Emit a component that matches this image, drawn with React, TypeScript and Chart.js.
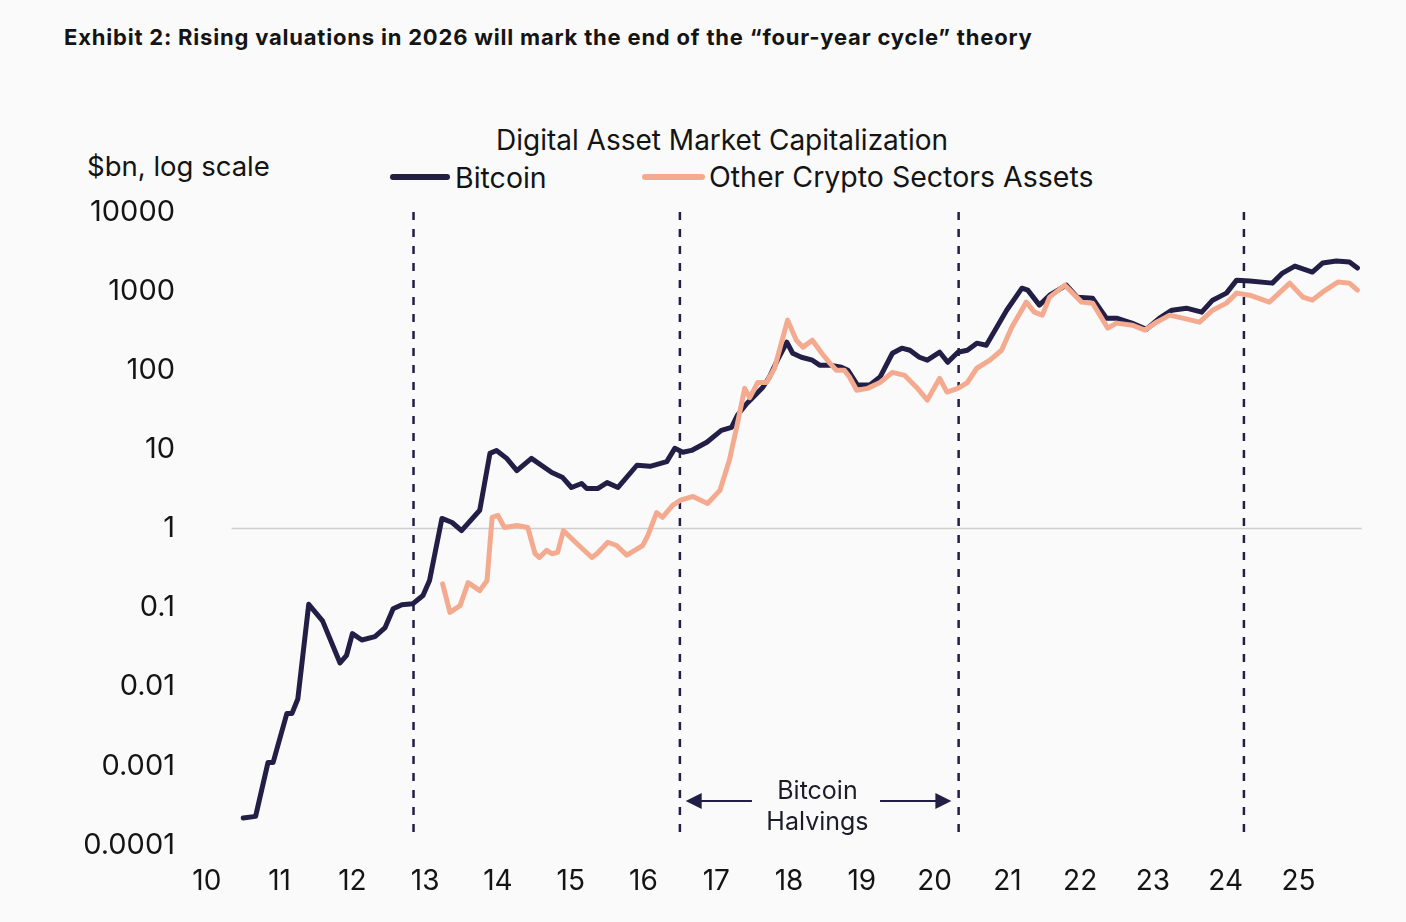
import { useEffect, useRef } from "react";
import { Chart, registerables } from "chart.js";

Chart.register(...registerables);

const NAVY = "#221e45";
const SALMON = "#f4aa8f";
const FONT = "Inter, 'Noto Sans', sans-serif";

// decimal year (10 = 2010) and market cap in $bn
const BTC_YEARS = [
  10.5, 10.67, 10.84, 10.91, 11.1, 11.17, 11.25, 11.4, 11.59, 11.83, 11.92, 12.0, 12.13, 12.31,
  12.45, 12.56, 12.68, 12.83, 12.97, 13.06, 13.23, 13.37, 13.5, 13.75, 13.89, 13.98, 14.12, 14.26,
  14.46, 14.74, 14.89, 15.01, 15.15, 15.22, 15.37, 15.5, 15.65, 15.91, 16.09, 16.32, 16.43, 16.54,
  16.66, 16.87, 17.07, 17.21, 17.29, 17.42, 17.5, 17.64, 17.73, 17.84, 17.97, 18.05, 18.17, 18.32,
  18.42, 18.56, 18.72, 18.81, 18.94, 19.11, 19.25, 19.42, 19.55, 19.66, 19.79, 19.9, 20.07, 20.18,
  20.32, 20.45, 20.58, 20.71, 20.99, 21.2, 21.28, 21.44, 21.58, 21.81, 21.96, 22.17, 22.36, 22.5,
  22.71, 22.91, 23.09, 23.26, 23.46, 23.67, 23.82, 24.01, 24.15, 24.33, 24.64, 24.78, 24.95, 25.19,
  25.33, 25.52, 25.7, 25.81,
];
const BTC_CAP = [
  0.00022, 0.00023, 0.0011, 0.0011, 0.0046, 0.0046, 0.007, 0.11, 0.068, 0.02, 0.025, 0.047, 0.039, 0.043,
  0.056, 0.097, 0.109, 0.112, 0.142, 0.22, 1.34, 1.19, 0.94, 1.7, 8.9, 9.7, 7.7, 5.4,
  7.7, 5.1, 4.4, 3.3, 3.7, 3.2, 3.2, 3.8, 3.3, 6.3, 6.1, 7.0, 10.3, 9.2,
  9.7, 12.3, 17.4, 19, 27, 38, 45, 61, 82, 134, 226, 164, 146, 134,
  116, 116, 109, 100, 65, 65, 82, 164, 190, 179, 146, 134, 169, 126,
  169, 179, 220, 207, 574, 1090, 1030, 666, 889, 1190, 839, 815, 455, 455,
  394, 330, 455, 574, 609, 542, 769, 944, 1377, 1339, 1262, 1690, 2071, 1740,
  2261, 2400, 2330, 1955,
];

const OTHER_YEARS = [
  13.24, 13.34, 13.48, 13.59, 13.75, 13.85, 13.92, 14.0, 14.09, 14.26, 14.41, 14.51, 14.57, 14.67,
  14.74, 14.82, 14.9, 15.08, 15.29, 15.36, 15.51, 15.63, 15.77, 15.88, 15.99, 16.06, 16.18, 16.26,
  16.4, 16.5, 16.68, 16.88, 17.05, 17.18, 17.28, 17.39, 17.46, 17.57, 17.69, 17.8, 17.98, 18.1,
  18.19, 18.32, 18.45, 18.56, 18.65, 18.76, 18.83, 18.93, 19.08, 19.25, 19.42, 19.59, 19.75, 19.9,
  20.07, 20.17, 20.32, 20.45, 20.58, 20.76, 20.92, 21.06, 21.26, 21.37, 21.48, 21.58, 21.79, 22.02,
  22.17, 22.38, 22.5, 22.72, 22.89, 23.05, 23.23, 23.41, 23.64, 23.82, 24.01, 24.15, 24.33, 24.6,
  24.88, 25.06, 25.19, 25.33, 25.54, 25.7, 25.81,
];
const OTHER_CAP = [
  0.2, 0.087, 0.106, 0.207, 0.164, 0.22, 1.38, 1.46, 1.03, 1.09, 1.03, 0.48, 0.43, 0.53,
  0.48, 0.5, 0.94, 0.65, 0.43, 0.48, 0.67, 0.61, 0.46, 0.53, 0.61, 0.82, 1.59, 1.38,
  1.96, 2.26, 2.54, 2.07, 3.03, 7.3, 19, 59, 45, 70, 70, 106, 430, 240,
  196, 240, 164, 123, 100, 100, 82, 56, 59, 70, 94, 86, 61, 42,
  79, 53, 59, 70, 106, 134, 179, 350, 726, 542, 497, 839, 1190, 726,
  705, 340, 394, 371, 321, 405, 497, 455, 405, 574, 705, 944, 889, 726,
  1262, 839, 769, 970, 1300, 1262, 1030,
];

const HALVINGS = [12.84, 16.5, 20.33, 24.25];

const YEAR_TICKS = [10, 11, 12, 13, 14, 15, 16, 17, 18, 19, 20, 21, 22, 23, 24, 25];
const YEAR_LABELS = ["10", "11", "12", "13", "14", "15", "16", "17", "18", "19", "20", "21", "22", "23", "24", "25"];
const CAP_TICKS = [0.0001, 0.001, 0.01, 0.1, 1, 10, 100, 1000, 10000];
const CAP_LABELS = ["0.0001", "0.001", "0.01", "0.1", "1", "10", "100", "1000", "10000"];

// where the "Bitcoin Halvings" note sits, in data units
const NOTE_ARROW_Y = 0.00036;
const NOTE_LEFT = [16.58, 17.49];
const NOTE_RIGHT = [19.25, 20.23];
const NOTE_X = 18.39;
const NOTE_LINES: [string, number][] = [["Bitcoin", 0.00048], ["Halvings", 0.000195]];

const halvingNote = {
  id: "halvingNote",
  afterDatasetsDraw(chart: Chart) {
    const { ctx } = chart;
    const x = chart.scales.x;
    const y = chart.scales.y;
    const ay = y.getPixelForValue(NOTE_ARROW_Y);
    ctx.save();
    ctx.strokeStyle = NAVY;
    ctx.fillStyle = NAVY;
    ctx.lineWidth = 2;
    const arrow = (tip: number, tail: number) => {
      const px = x.getPixelForValue(tip);
      const qx = x.getPixelForValue(tail);
      const dir = Math.sign(qx - px);
      ctx.beginPath();
      ctx.moveTo(px + dir * 12, ay);
      ctx.lineTo(qx, ay);
      ctx.stroke();
      ctx.beginPath();
      ctx.moveTo(px, ay);
      ctx.lineTo(px + dir * 16, ay - 8);
      ctx.lineTo(px + dir * 16, ay + 8);
      ctx.closePath();
      ctx.fill();
    };
    arrow(NOTE_LEFT[0], NOTE_LEFT[1]);
    arrow(NOTE_RIGHT[1], NOTE_RIGHT[0]);
    ctx.fillStyle = "#1c1c28";
    ctx.font = `25px ${FONT}`;
    ctx.textAlign = "center";
    ctx.textBaseline = "middle";
    NOTE_LINES.forEach(([t, v]) => ctx.fillText(t, x.getPixelForValue(NOTE_X), y.getPixelForValue(v)));
    ctx.restore();
  },
};

function Text({ left, cy, size, weight, spacing, children }: {
  left: number; cy: number; size: number; weight?: number; spacing?: number; children: string;
}) {
  return (
    <div style={{
      position: "absolute", left, top: cy, transform: "translateY(-50%)",
      fontFamily: FONT, fontSize: size, fontWeight: weight ?? 400, lineHeight: 1,
      letterSpacing: spacing ?? 0, whiteSpace: "nowrap", color: "#141414",
    }}>{children}</div>
  );
}

function Swatch({ left, width, color }: { left: number; width: number; color: string }) {
  return (
    <div style={{
      position: "absolute", left, top: 174, width, height: 6, borderRadius: 3, background: color,
    }} />
  );
}

export default function App() {
  const canvasRef = useRef<HTMLCanvasElement>(null);
  const chartRef = useRef<Chart | null>(null);

  useEffect(() => {
    if (!canvasRef.current) return;
    if (chartRef.current) chartRef.current.destroy();

    const halvingSets = HALVINGS.map(h => ({
      label: "halving",
      data: [{ x: h, y: 10000 }, { x: h, y: 0.00012 }],
      borderColor: NAVY,
      borderWidth: 2.5,
      borderDash: [8, 9],
      pointRadius: 0,
      order: 3,
    }));

    chartRef.current = new Chart(canvasRef.current, {
      type: "line",
      data: {
        datasets: [
          {
            label: "Bitcoin",
            data: BTC_YEARS.map((x, i) => ({ x, y: BTC_CAP[i] })),
            borderColor: NAVY,
            backgroundColor: NAVY,
            borderWidth: 5,
            pointRadius: 0,
            tension: 0,
            borderJoinStyle: "round",
            borderCapStyle: "round",
            order: 1,
          },
          {
            label: "Other Crypto Sectors Assets",
            data: OTHER_YEARS.map((x, i) => ({ x, y: OTHER_CAP[i] })),
            borderColor: SALMON,
            backgroundColor: SALMON,
            borderWidth: 5,
            pointRadius: 0,
            tension: 0,
            borderJoinStyle: "round",
            borderCapStyle: "round",
            order: 0,
          },
          ...halvingSets,
          {
            label: "one",
            data: [{ x: 10.34, y: 1 }, { x: 25.87, y: 1 }],
            borderColor: "#cfcfcf",
            borderWidth: 1.5,
            pointRadius: 0,
            order: 4,
          },
        ],
      },
      options: {
        animation: false,
        responsive: true,
        maintainAspectRatio: false,
        layout: { padding: { top: 212, right: 42, bottom: 0, left: 0 } },
        scales: {
          x: {
            type: "linear",
            min: 9.7,
            max: 25.9,
            grid: { display: false, drawTicks: false },
            border: { display: false },
            afterFit: (s: any) => { s.height = 77; },
            afterBuildTicks: (s: any) => { s.ticks = YEAR_TICKS.map(v => ({ value: v })); },
            ticks: {
              autoSkip: false,
              maxRotation: 0,
              padding: 20,
              color: "#141414",
              font: { family: FONT, size: 28 },
              callback: (v: any) => YEAR_LABELS[YEAR_TICKS.indexOf(Number(v))] ?? "",
            },
          },
          y: {
            type: "logarithmic",
            min: 0.0001,
            max: 10000,
            grid: { display: false, drawTicks: false },
            border: { display: false },
            afterFit: (s: any) => { s.width = 185; },
            afterBuildTicks: (s: any) => { s.ticks = CAP_TICKS.map(v => ({ value: v })); },
            ticks: {
              padding: 10,
              color: "#141414",
              font: { family: FONT, size: 29 },
              callback: (v: any) => CAP_LABELS[CAP_TICKS.indexOf(Number(v))] ?? "",
            },
          },
        },
        plugins: {
          legend: { display: false },
          tooltip: { enabled: false },
        },
      },
      plugins: [halvingNote],
    });

    return () => { chartRef.current?.destroy(); chartRef.current = null; };
  }, []);

  return (
    <div style={{ position: "fixed", inset: 0, background: "#fafafa", overflow: "hidden" }}>
      <Text left={64} cy={37} size={22} weight={700} spacing={0.8}>
        {"Exhibit 2: Rising valuations in 2026 will mark the end of the \u201cfour-year cycle\u201d theory"}
      </Text>
      <Text left={496} cy={140} size={28}>Digital Asset Market Capitalization</Text>
      <Text left={87} cy={167} size={27.5}>$bn, log scale</Text>
      <Swatch left={390} width={60} color={NAVY} />
      <Text left={455} cy={178} size={28.5}>Bitcoin</Text>
      <Swatch left={642} width={63} color={SALMON} />
      <Text left={709} cy={177} size={28.5}>Other Crypto Sectors Assets</Text>
      <div style={{ position: "absolute", left: 0, top: 0, width: 1406, height: 922 }}>
        <canvas ref={canvasRef} />
      </div>
    </div>
  );
}
